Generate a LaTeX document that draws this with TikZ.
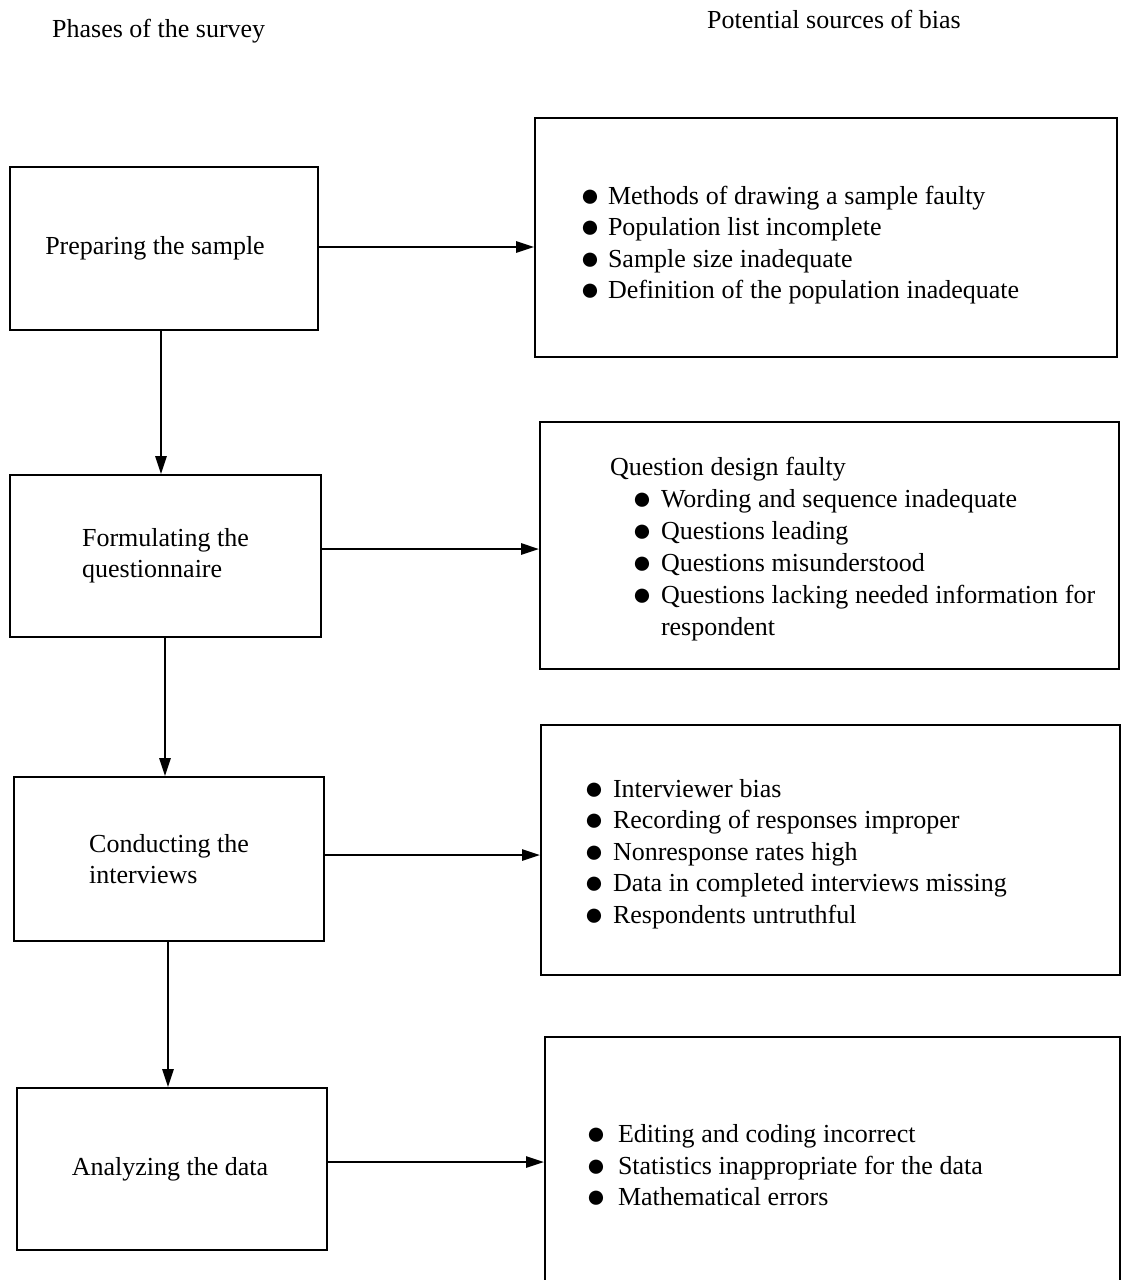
\documentclass[tikz,border=0pt]{standalone}
\usepackage{fontspec}
\setmainfont{Liberation Serif}
\usetikzlibrary{arrows.meta}
\newcommand{\bul}[1]{\makebox[#1][l]{\raisebox{-2pt}{\fontsize{33}{33}\selectfont ●}}}
\newcommand{\topstrut}[1]{\rule{0pt}{#1}}
\newcommand{\rset}[1]{\leftskip=#1\spaceskip=0.26em plus 0.05em\relax}
\begin{document}
\begin{tikzpicture}[x=1pt,y=-1pt,
  lbox/.style={draw, line width=1.8pt, inner sep=0pt, align=left,
    font=\fontsize{26}{31}\selectfont},
  rbox/.style={draw, line width=1.8pt, inner sep=0pt, align=left,
    font=\fontsize{26}{31.5}\selectfont},
  arr/.style={line width=2.6pt, -{Triangle[length=18pt,width=11pt]}},
  ttl/.style={font=\fontsize{26}{31}\selectfont, anchor=base west, inner sep=0pt}]
\clip (0,0) rectangle (1123,1280);
\fill[white] (0,0) rectangle (1123,1280);

% titles
\node[ttl] (t1) at (52,37) {Phases of the survey};
\node[ttl] (t2) at (707,28) {Potential sources of bias};

% phases
\node[lbox, minimum width=308, minimum height=163] (L1) at (164,248.5) {Preparing the sample\hspace*{18pt}};
\node[lbox, minimum width=311, minimum height=162] (L2) at (165.5,556) {Formulating the\\questionnaire};
\node[lbox, minimum width=310, minimum height=164] (L3) at (169,859) {Conducting the\\interviews};
\node[lbox, minimum width=310, minimum height=162] (L4) at (172,1169) {Analyzing the data\hspace*{4pt}};

% sources of bias
\node[rbox, minimum width=582, text width=582, minimum height=239] (R1) at (826,237.5)
  {\rset{45pt}\topstrut{34pt}\bul{28pt}Methods of drawing a sample faulty\\
   \bul{28pt}Population list incomplete\\
   \bul{28pt}Sample size inadequate\\
   \bul{28pt}Definition of the population inadequate\par};
\node[rbox, minimum width=579, text width=579, minimum height=247,
      font=\fontsize{26}{32}\selectfont] (R2) at (829.5,545.5)
  {\rset{70pt}\topstrut{26pt}Question design faulty\\
   \hspace*{22pt}\bul{29pt}Wording and sequence inadequate\\
   \hspace*{22pt}\bul{29pt}Questions leading\\
   \hspace*{22pt}\bul{29pt}Questions misunderstood\\
   \hspace*{22pt}\bul{29pt}Questions lacking needed information for\\
   \hspace*{51pt}respondent\par};
\node[rbox, minimum width=579, text width=579, minimum height=250] (R3) at (830.5,850)
  {\rset{43pt}\topstrut{26pt}\bul{29pt}Interviewer bias\\
   \bul{29pt}Recording of responses improper\\
   \bul{29pt}Nonresponse rates high\\
   \bul{29pt}Data in completed interviews missing\\
   \bul{29pt}Respondents untruthful\par};
\node[rbox, minimum width=575, text width=575, minimum height=258] (R4) at (832.5,1166)
  {\rset{41pt}\bul{32pt}Editing and coding incorrect\\
   \bul{32pt}Statistics inappropriate for the data\\
   \bul{32pt}Mathematical errors\par};

% connectors
\draw[arr] ([yshift=1.5pt]L1.east) -- ([yshift=1.5pt]L1.east -| R1.west);
\draw[arr] ([yshift=7pt]L2.east) -- ([yshift=7pt]L2.east -| R2.west);
\draw[arr] ([yshift=4pt]L3.east) -- ([yshift=4pt]L3.east -| R3.west);
\draw[arr] ([yshift=7pt]L4.east) -- ([yshift=7pt]L4.east -| R4.west);

\draw[arr] ([xshift=-3pt]L1.south) -- ([xshift=-3pt]L1.south |- L2.north);
\draw[arr] ([xshift=-0.5pt]L2.south) -- ([xshift=-0.5pt]L2.south |- L3.north);
\draw[arr] ([xshift=-1pt]L3.south) -- ([xshift=-1pt]L3.south |- L4.north);
\end{tikzpicture}
\end{document}
